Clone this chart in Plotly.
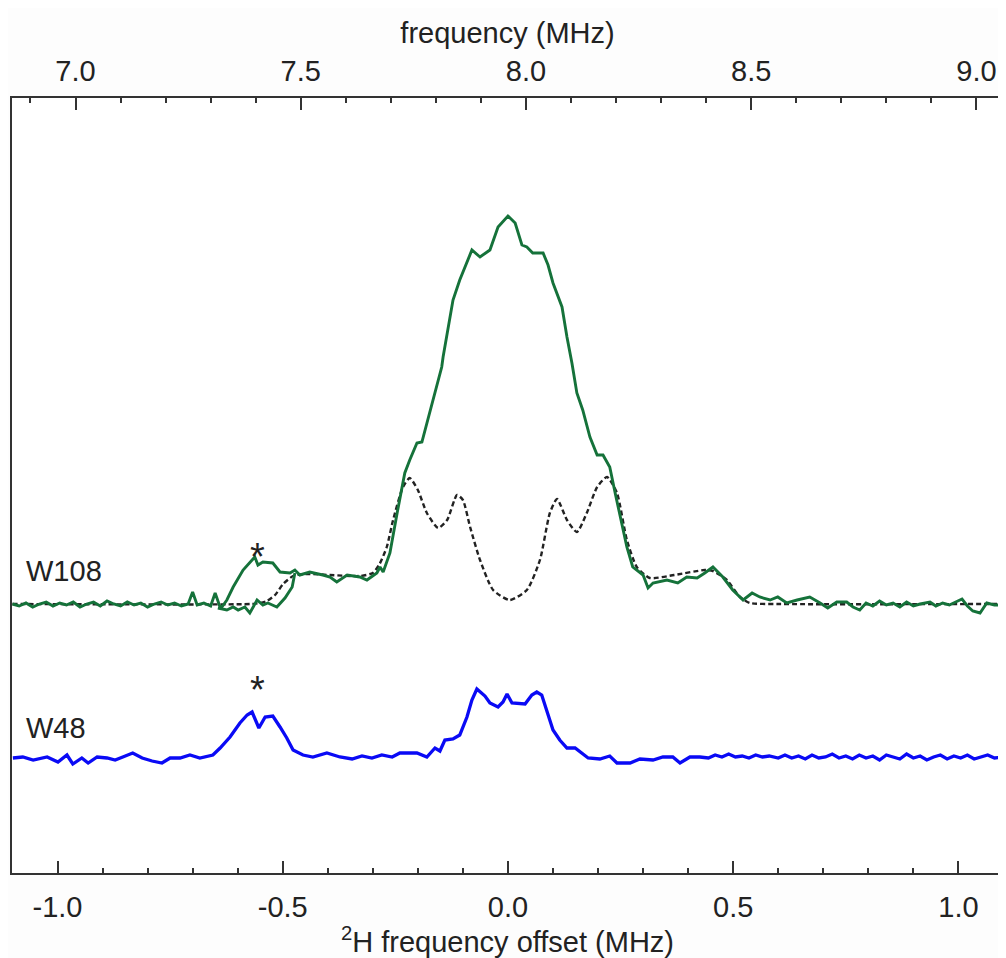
import plotly.graph_objects as go

# ---------------- data ----------------
# W108 experimental spectrum (offset in MHz, intensity in a.u.)
w108_offset = [
    -1.100, -1.085, -1.070, -1.055, -1.040, -1.025, -1.010, -0.995, -0.980, -0.965,
    -0.950, -0.935, -0.920, -0.905, -0.890, -0.875, -0.860, -0.845, -0.830, -0.815,
    -0.800, -0.785, -0.770, -0.755, -0.740, -0.725, -0.710, -0.700, -0.690, -0.675,
    -0.660, -0.650, -0.640, -0.635, -0.624, -0.610, -0.588, -0.568, -0.562, -0.555,
    -0.544, -0.522, -0.506, -0.484, -0.473, -0.462, -0.440, -0.411, -0.395, -0.380,
    -0.357, -0.329, -0.313, -0.291, -0.284, -0.277, -0.262, -0.246, -0.229, -0.218,
    -0.202, -0.191, -0.180, -0.169, -0.155, -0.147, -0.144, -0.133, -0.122, -0.107,
    -0.091, -0.080, -0.062, -0.040, -0.022, 0.000, 0.016, 0.031, 0.042, 0.055,
    0.078, 0.089, 0.100, 0.120, 0.131, 0.142, 0.153, 0.166, 0.182, 0.198,
    0.211, 0.226, 0.238, 0.253, 0.264, 0.277, 0.300, 0.311, 0.322, 0.353,
    0.377, 0.397, 0.420, 0.437, 0.455, 0.477, 0.499, 0.522, 0.542, 0.559,
    0.582, 0.599, 0.619, 0.642, 0.670, 0.693, 0.710, 0.730, 0.752, 0.766,
    0.781, 0.795, 0.810, 0.825, 0.840, 0.855, 0.870, 0.885, 0.900, 0.915,
    0.937, 0.950, 0.965, 0.980, 0.995, 1.008, 1.020, 1.032, 1.048, 1.063,
    1.080, 1.100,
]
w108_signal = [
    0.00, -0.02, 0.01, -0.03, 0.00, 0.02, -0.02, 0.01, -0.01, 0.02,
    -0.03, 0.00, 0.02, -0.02, 0.03, 0.00, -0.02, 0.02, -0.01, 0.01,
    -0.03, 0.00, 0.02, -0.01, 0.01, -0.02, 0.00, 0.12, -0.01, 0.01,
    -0.02, 0.11, -0.02, -0.03, 0.04, 0.17, 0.34, 0.44, 0.47, 0.39,
    0.42, 0.41, 0.32, 0.31, 0.34, 0.29, 0.32, 0.29, 0.27, 0.22,
    0.29, 0.27, 0.24, 0.31, 0.37, 0.32, 0.51, 0.91, 1.31, 1.44,
    1.61, 1.62, 1.81, 2.01, 2.24, 2.37, 2.47, 2.77, 3.04, 3.24,
    3.41, 3.54, 3.47, 3.54, 3.77, 3.88, 3.81, 3.59, 3.57, 3.51,
    3.51, 3.39, 3.21, 2.97, 2.67, 2.41, 2.11, 1.94, 1.67, 1.49,
    1.49, 1.37, 1.11, 0.81, 0.57, 0.37, 0.29, 0.16, 0.21, 0.24,
    0.21, 0.27, 0.26, 0.31, 0.37, 0.27, 0.14, 0.04, 0.11, 0.07,
    0.04, 0.07, 0.01, 0.04, 0.07, 0.01, -0.04, 0.02, 0.02, -0.03,
    -0.06, 0.01, -0.02, 0.03, -0.01, 0.01, -0.03, 0.02, -0.02, 0.00,
    0.02, -0.02, 0.01, -0.01, 0.02, 0.05, -0.02, -0.07, -0.09, 0.01,
    -0.01, -0.01,
]

# second W108 branch (spectrum without the * artefact)
w108b_offset = [-0.644, -0.624, -0.610, -0.599, -0.584, -0.573, -0.557,
                -0.544, -0.533, -0.513, -0.495, -0.479, -0.473]
w108b_signal = [-0.04, -0.06, -0.03, -0.06, -0.03, -0.09, 0.04,
                -0.01, 0.01, -0.03, 0.06, 0.17, 0.31]

# simulated W108 spectrum (dashed)
sim_offset = [
    -1.100, -0.570, -0.550, -0.535, -0.517, -0.499, -0.477, -0.451, -0.395, -0.329,
    -0.300, -0.285, -0.269, -0.255, -0.233, -0.218, -0.200, -0.180, -0.155, -0.135,
    -0.113, -0.100, -0.084, -0.062, -0.033, 0.004, 0.042, 0.071, 0.093, 0.109,
    0.131, 0.153, 0.175, 0.198, 0.220, 0.242, 0.264, 0.286, 0.315, 0.369,
    0.437, 0.455, 0.486, 0.515, 0.537, 0.600, 1.100,
]
sim_signal = [
    0.00, 0.00, 0.01, 0.03, 0.09, 0.20, 0.28, 0.30, 0.29, 0.28,
    0.31, 0.40, 0.57, 0.84, 1.17, 1.26, 1.14, 0.91, 0.76, 0.84,
    1.09, 1.04, 0.77, 0.44, 0.14, 0.04, 0.14, 0.44, 0.91, 1.05,
    0.84, 0.72, 0.91, 1.17, 1.27, 1.11, 0.64, 0.37, 0.26, 0.29,
    0.34, 0.33, 0.24, 0.07, 0.01, 0.00, 0.00,
]

# W48 experimental spectrum
w48_offset = [
    -1.099, -1.077, -1.054, -1.023, -0.999, -0.979, -0.966, -0.946, -0.932, -0.912,
    -0.890, -0.872, -0.855, -0.833, -0.812, -0.790, -0.768, -0.750, -0.728, -0.706,
    -0.684, -0.655, -0.639, -0.617, -0.595, -0.579, -0.568, -0.553, -0.539, -0.522,
    -0.506, -0.491, -0.477, -0.455, -0.433, -0.402, -0.373, -0.346, -0.324, -0.302,
    -0.280, -0.257, -0.240, -0.202, -0.180, -0.162, -0.151, -0.140, -0.122, -0.107,
    -0.091, -0.080, -0.069, -0.051, -0.040, -0.022, -0.011, -0.002, 0.009, 0.038,
    0.053, 0.064, 0.075, 0.087, 0.100, 0.115, 0.131, 0.149, 0.164, 0.178,
    0.204, 0.226, 0.242, 0.271, 0.293, 0.322, 0.344, 0.366, 0.382, 0.404,
    0.426, 0.445, 0.460, 0.475, 0.490, 0.505, 0.520, 0.535, 0.550, 0.565,
    0.580, 0.600, 0.615, 0.630, 0.645, 0.660, 0.675, 0.690, 0.705, 0.720,
    0.735, 0.750, 0.765, 0.780, 0.795, 0.810, 0.825, 0.840, 0.855, 0.870,
    0.885, 0.900, 0.915, 0.930, 0.945, 0.960, 0.975, 0.990, 1.005, 1.020,
    1.035, 1.050, 1.065, 1.080, 1.100,
]
w48_signal = [
    0.02, 0.03, 0.00, 0.03, -0.02, 0.05, -0.04, 0.02, -0.03, 0.03,
    0.02, 0.00, 0.03, 0.07, 0.02, -0.01, -0.03, 0.02, 0.02, 0.05,
    0.02, 0.05, 0.12, 0.23, 0.37, 0.45, 0.48, 0.32, 0.43, 0.44,
    0.33, 0.22, 0.10, 0.05, 0.03, 0.07, 0.03, 0.01, 0.04, 0.02,
    0.05, 0.03, 0.07, 0.07, 0.03, 0.12, 0.09, 0.20, 0.21, 0.25,
    0.43, 0.60, 0.71, 0.64, 0.57, 0.53, 0.58, 0.66, 0.57, 0.56,
    0.65, 0.68, 0.65, 0.47, 0.30, 0.20, 0.12, 0.12, 0.07, 0.02,
    0.01, 0.04, -0.03, -0.03, 0.01, 0.00, 0.03, 0.03, -0.03, 0.03,
    0.03, 0.02, 0.05, 0.03, 0.06, 0.03, 0.04, 0.02, 0.05, 0.03,
    0.04, 0.02, 0.05, 0.02, 0.04, 0.01, 0.05, 0.02, 0.03, 0.06,
    0.02, 0.04, 0.01, 0.05, 0.02, 0.04, 0.00, 0.05, 0.03, 0.01,
    0.06, 0.02, 0.04, 0.00, 0.03, 0.05, 0.01, 0.04, 0.02, 0.05,
    0.01, 0.03, 0.05, 0.02, 0.03,
]

series_labels = ["W108", "W48"]
series_offsets = [0.0, -1.56]          # vertical stacking of the spectra
star_offset = -0.557                   # position of the * artefact

bottom_tick_vals = [-1.0, -0.5, 0.0, 0.5, 1.0]
bottom_tick_text = ["-1.0", "-0.5", "0.0", "0.5", "1.0"]
top_tick_vals = [7.0, 7.5, 8.0, 8.5, 9.0]
top_tick_text = ["7.0", "7.5", "8.0", "8.5", "9.0"]
center_frequency = 7.96                # MHz, frequency at zero offset

x_range = [-1.101, 1.099]
y_range = [-2.69, 5.06]

# ---------------- figure ----------------
GREEN = "#15723a"
BLUE = "#0a0af5"
AXC = "#333333"
FONT = "Liberation Sans, Arial, sans-serif"
FS = 29

fig = go.Figure()
fig.add_trace(go.Scatter(x=sim_offset, y=[v + series_offsets[0] for v in sim_signal],
                         mode="lines", line=dict(color="#222222", width=2.4, dash="5px,3px",
                                                 shape="spline", smoothing=0.6),
                         hoverinfo="skip", showlegend=False))
fig.add_trace(go.Scatter(x=w108b_offset, y=[v + series_offsets[0] for v in w108b_signal],
                         mode="lines", line=dict(color=GREEN, width=2.9),
                         hoverinfo="skip", showlegend=False))
fig.add_trace(go.Scatter(x=w108_offset, y=[v + series_offsets[0] for v in w108_signal],
                         mode="lines", line=dict(color=GREEN, width=2.9),
                         name="W108", showlegend=False))
fig.add_trace(go.Scatter(x=w48_offset, y=[v + series_offsets[1] for v in w48_signal],
                         mode="lines", line=dict(color=BLUE, width=3.3),
                         name="W48", showlegend=False))
# invisible trace carrying the top frequency axis
fig.add_trace(go.Scatter(x=[x_range[0] + center_frequency, x_range[1] + center_frequency],
                         y=[None, None], xaxis="x2", mode="lines",
                         hoverinfo="skip", showlegend=False))

annotations = []
label_y = [0.33, -1.24]
for lab, yy in zip(series_labels, label_y):
    annotations.append(dict(x=-1.075, y=yy, xref="x", yref="y", text=lab, showarrow=False,
                            xanchor="left", yanchor="middle",
                            font=dict(family=FONT, size=FS, color="#222222")))
star_y = [0.47, -0.86]
for yy in star_y:
    annotations.append(dict(x=star_offset, y=yy, xref="x", yref="y", text="*", showarrow=False,
                            xanchor="center", yanchor="middle",
                            font=dict(family=FONT, size=38, color="#222222")))

# the page body has an 8px margin, so the figure is 8px smaller and margins compensate
fig.update_layout(
    width=998, height=950,
    margin=dict(l=4, r=3, t=90, b=85),
    paper_bgcolor="#fdfdfd", plot_bgcolor="#ffffff",
    font=dict(family=FONT, size=FS, color="#222222"),
    annotations=annotations,
    xaxis=dict(range=x_range, showline=True, linecolor=AXC, linewidth=1.8, mirror=False,
               showgrid=False, zeroline=False,
               tickmode="array", tickvals=bottom_tick_vals, ticktext=bottom_tick_text,
               ticks="inside", ticklen=12, tickwidth=1.6, tickcolor=AXC,
               minor=dict(tickmode="linear", tick0=0.0, dtick=0.1, ticks="inside", ticklen=5,
                          tickwidth=1.6, tickcolor=AXC, showgrid=False),
               tickfont=dict(family=FONT, size=FS, color="#222222"),
               ticklabelstandoff=7,
               title=dict(text="<sup>2</sup>H frequency offset (MHz)", standoff=8,
                          font=dict(family=FONT, size=FS, color="#222222")),
               automargin=False),
    xaxis2=dict(range=[x_range[0] + center_frequency, x_range[1] + center_frequency],
                overlaying="x", side="top", anchor="y",
                showline=True, linecolor=AXC, linewidth=1.8, showgrid=False, zeroline=False,
                tickmode="array", tickvals=top_tick_vals, ticktext=top_tick_text,
                ticks="inside", ticklen=12, tickwidth=1.6, tickcolor=AXC,
                minor=dict(tickmode="linear", tick0=7.0, dtick=0.1, ticks="inside", ticklen=5,
                           tickwidth=1.6, tickcolor=AXC, showgrid=False),
                tickfont=dict(family=FONT, size=FS, color="#222222"),
                ticklabelstandoff=4,
                title=dict(text="frequency (MHz)", standoff=2,
                           font=dict(family=FONT, size=FS, color="#222222")),
                automargin=False),
    yaxis=dict(range=y_range, showline=True, linecolor=AXC, linewidth=1.8, mirror=True,
               showticklabels=False, ticks="", showgrid=False, zeroline=False, automargin=False),
)

fig.write_html("out.html")
